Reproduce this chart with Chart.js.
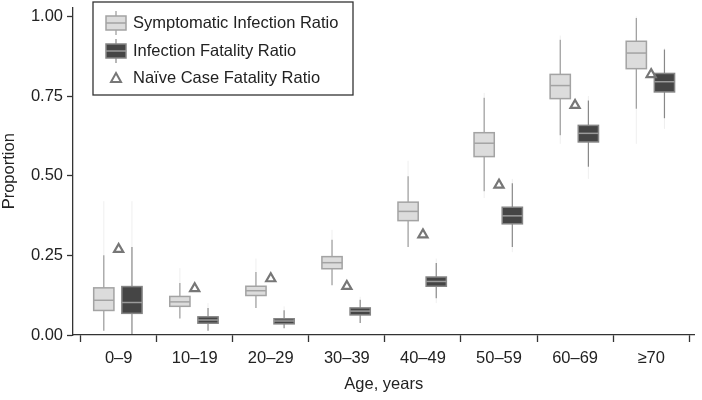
<!DOCTYPE html>
<html>
<head>
<meta charset="utf-8">
<script src="https://cdn.jsdelivr.net/npm/chart.js@4.4.1/dist/chart.umd.min.js"></script>
<style>
  body { margin: 0; background: #fff; }
  #wrap { width: 702px; height: 400px; position: relative; }
</style>
</head>
<body>
<div id="wrap"><canvas id="ratioChart"></canvas></div>
<script>
// Age groups and box plot summaries
const ageGroups = ['0–9', '10–19', '20–29', '30–39', '40–49', '50–59', '60–69', '≥70'];

// Symptomatic infection ratio
const sirTailLo = [0.013, 0.052, 0.085, 0.156, 0.276, 0.430, 0.600, 0.600];
const sirMin    = [0.013, 0.052, 0.085, 0.156, 0.276, 0.451, 0.627, 0.710];
const sirQ1     = [0.077, 0.090, 0.124, 0.208, 0.359, 0.560, 0.742, 0.836];
const sirMed    = [0.109, 0.104, 0.139, 0.227, 0.388, 0.602, 0.783, 0.885];
const sirQ3     = [0.148, 0.121, 0.153, 0.246, 0.417, 0.635, 0.818, 0.922];
const sirMax    = [0.250, 0.163, 0.198, 0.299, 0.498, 0.745, 0.927, 0.995];
const sirTailHi = [0.420, 0.210, 0.240, 0.330, 0.547, 0.760, 0.940, 1.000];

// Infection fatality ratio
const ifrTailLo = [0.003, 0.013, 0.021, 0.038, 0.100, 0.260, 0.490, 0.647];
const ifrMin    = [0.003, 0.013, 0.021, 0.038, 0.115, 0.276, 0.528, 0.680];
const ifrQ1     = [0.068, 0.037, 0.035, 0.063, 0.153, 0.349, 0.606, 0.763];
const ifrMed    = [0.102, 0.047, 0.044, 0.075, 0.168, 0.374, 0.633, 0.795];
const ifrQ3     = [0.152, 0.057, 0.051, 0.085, 0.182, 0.401, 0.658, 0.821];
const ifrMax    = [0.276, 0.085, 0.078, 0.111, 0.226, 0.476, 0.736, 0.896];
const ifrTailHi = [0.420, 0.100, 0.090, 0.120, 0.240, 0.490, 0.750, 0.900];

// Naive case fatality ratio
const naiveCfr = [0.269, 0.146, 0.177, 0.153, 0.315, 0.471, 0.721, 0.818];

const yTicks = [0, 0.25, 0.5, 0.75, 1];

const FONT = 'Liberation Sans, Arial, sans-serif';
const TEXT = '#222';

const sirStyle = { offset: -0.195, fill: '#dcdcdc', stroke: '#a3a3a3', median: '#a3a3a3', whisker: '#999' };
const ifrStyle = { offset: 0.175, fill: '#454545', stroke: '#858585', median: '#9a9a9a', whisker: '#888' };
const BOX_W = 0.266;

function drawBoxes(chart, st, lo, mn, q1, md, q3, mx, hi) {
    const { ctx, scales: { x, y } } = chart;
    for (let i = 0; i < ageGroups.length; i++) {
        const cx = x.getPixelForValue(i + 0.5 + st.offset);
        const x0 = x.getPixelForValue(i + 0.5 + st.offset - BOX_W / 2);
        const x1 = x.getPixelForValue(i + 0.5 + st.offset + BOX_W / 2);
        ctx.save();
        // faint tails
        ctx.strokeStyle = '#efefef';
        ctx.lineWidth = 1;
        ctx.beginPath();
        ctx.moveTo(cx, y.getPixelForValue(hi[i]));
        ctx.lineTo(cx, y.getPixelForValue(mx[i]));
        ctx.moveTo(cx, y.getPixelForValue(mn[i]));
        ctx.lineTo(cx, y.getPixelForValue(lo[i]));
        ctx.stroke();
        // whiskers
        ctx.strokeStyle = st.whisker;
        ctx.lineWidth = 1.2;
        ctx.beginPath();
        ctx.moveTo(cx, y.getPixelForValue(mx[i]));
        ctx.lineTo(cx, y.getPixelForValue(q3[i]));
        ctx.moveTo(cx, y.getPixelForValue(q1[i]));
        ctx.lineTo(cx, y.getPixelForValue(mn[i]));
        ctx.stroke();
        // box
        const yt = y.getPixelForValue(q3[i]);
        const yb = y.getPixelForValue(q1[i]);
        ctx.fillStyle = st.fill;
        ctx.fillRect(x0, yt, x1 - x0, yb - yt);
        ctx.strokeStyle = st.stroke;
        ctx.lineWidth = 1.5;
        ctx.strokeRect(x0, yt, x1 - x0, yb - yt);
        // median
        const ym = y.getPixelForValue(md[i]);
        ctx.strokeStyle = st.median;
        ctx.lineWidth = 1.5;
        ctx.beginPath();
        ctx.moveTo(x0, ym);
        ctx.lineTo(x1, ym);
        ctx.stroke();
        ctx.restore();
    }
}

const boxPlugin = {
    id: 'boxPlots',
    beforeDatasetsDraw(chart) {
        drawBoxes(chart, sirStyle, sirTailLo, sirMin, sirQ1, sirMed, sirQ3, sirMax, sirTailHi);
        drawBoxes(chart, ifrStyle, ifrTailLo, ifrMin, ifrQ1, ifrMed, ifrQ3, ifrMax, ifrTailHi);
    }
};

// legend drawn by hand: box icons are not something the built-in legend does
function legendBoxIcon(ctx, cx, cy, st) {
    ctx.strokeStyle = st.whisker;
    ctx.lineWidth = 1.2;
    ctx.beginPath();
    ctx.moveTo(cx, cy - 12);
    ctx.lineTo(cx, cy + 12);
    ctx.stroke();
    ctx.fillStyle = st.fill;
    ctx.fillRect(cx - 10, cy - 7, 20, 14);
    ctx.strokeStyle = st.stroke;
    ctx.lineWidth = 1.5;
    ctx.strokeRect(cx - 10, cy - 7, 20, 14);
    ctx.strokeStyle = st.median;
    ctx.beginPath();
    ctx.moveTo(cx - 10, cy);
    ctx.lineTo(cx + 10, cy);
    ctx.stroke();
}

const legendPlugin = {
    id: 'boxLegend',
    afterDraw(chart) {
        const ctx = chart.ctx;
        ctx.save();
        ctx.fillStyle = '#fff';
        ctx.fillRect(93, 2, 260, 93);
        ctx.strokeStyle = '#333';
        ctx.lineWidth = 1.3;
        ctx.strokeRect(93, 2, 260, 93);

        legendBoxIcon(ctx, 116, 23, sirStyle);
        legendBoxIcon(ctx, 116, 51, ifrStyle);

        // triangle icon
        ctx.strokeStyle = '#777';
        ctx.lineWidth = 2;
        ctx.beginPath();
        ctx.moveTo(116, 73);
        ctx.lineTo(121, 82);
        ctx.lineTo(111, 82);
        ctx.closePath();
        ctx.stroke();

        ctx.fillStyle = TEXT;
        ctx.font = '16.5px ' + FONT;
        ctx.textBaseline = 'middle';
        ctx.textAlign = 'left';
        ctx.fillText('Symptomatic Infection Ratio', 133, 23);
        ctx.fillText('Infection Fatality Ratio', 133, 51);
        ctx.fillText('Naïve Case Fatality Ratio', 133, 78);
        ctx.restore();
    }
};

const ctx = document.getElementById('ratioChart').getContext('2d');
const ratioChart = new Chart(ctx, {
    type: 'scatter',
    data: {
        datasets: [{
            label: 'Naïve Case Fatality Ratio',
            data: naiveCfr.map((v, i) => ({ x: i + 0.5, y: v })),
            pointStyle: 'triangle',
            pointRadius: 5.3,
            borderWidth: 2.2,
            borderColor: '#777',
            backgroundColor: 'rgba(255,255,255,0)'
        }]
    },
    options: {
        responsive: true,
        maintainAspectRatio: false,
        animation: false,
        events: [],
        layout: { padding: 0 },
        plugins: {
            legend: { display: false },
            tooltip: { enabled: false }
        },
        scales: {
            x: {
                type: 'linear',
                min: -0.1,
                max: 8.07,
                afterBuildTicks: scale => {
                    const t = [];
                    for (let v = 0; v <= 8; v += 0.5) t.push({ value: v });
                    scale.ticks = t;
                },
                afterFit: scale => {
                    scale.height = 65;
                    scale.paddingLeft = 0;
                    scale.paddingRight = 0;
                },
                grid: {
                    drawOnChartArea: false,
                    tickLength: 7,
                    tickWidth: 1.3,
                    tickColor: c => (c.tick && Number.isInteger(c.tick.value)) ? '#333' : 'rgba(0,0,0,0)'
                },
                border: { color: '#333', width: 1.3 },
                ticks: {
                    autoSkip: false,
                    maxRotation: 0,
                    padding: 7,
                    color: TEXT,
                    font: { size: 16.5, family: FONT },
                    callback: v => Number.isInteger(v) ? '' : ageGroups[Math.floor(v)]
                },
                title: {
                    display: true,
                    text: 'Age, years',
                    color: TEXT,
                    font: { size: 16.5, family: FONT },
                    padding: { top: 0, bottom: 6 }
                }
            },
            y: {
                min: 0,
                max: 1.028,
                afterBuildTicks: scale => { scale.ticks = yTicks.map(v => ({ value: v })); },
                afterFit: scale => {
                    scale.width = 73;
                    scale.paddingTop = 0;
                    scale.paddingBottom = 0;
                },
                grid: {
                    drawOnChartArea: false,
                    tickLength: 6,
                    tickWidth: 1.3,
                    tickColor: '#333'
                },
                border: { color: '#333', width: 1.3 },
                ticks: {
                    padding: 4,
                    color: TEXT,
                    font: { size: 16.5, family: FONT },
                    callback: v => v.toFixed(2)
                },
                title: {
                    display: true,
                    text: 'Proportion',
                    color: TEXT,
                    font: { size: 16.5, family: FONT },
                    padding: 0
                }
            }
        }
    },
    plugins: [boxPlugin, legendPlugin]
});
</script>
</body>
</html>
